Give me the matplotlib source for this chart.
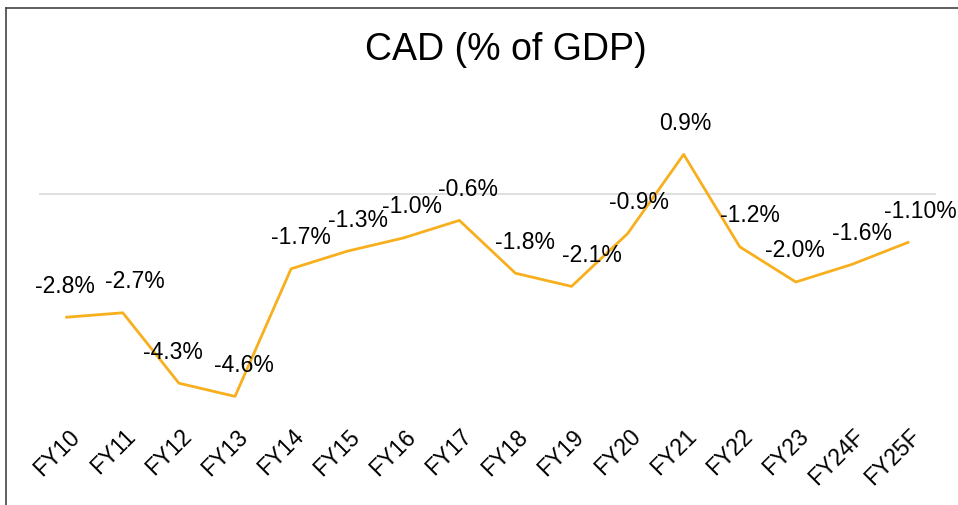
import matplotlib.pyplot as plt
import matplotlib.transforms as mtransforms
from matplotlib.lines import Line2D

# Daten
jahre = ["FY10", "FY11", "FY12", "FY13", "FY14", "FY15", "FY16", "FY17",
         "FY18", "FY19", "FY20", "FY21", "FY22", "FY23", "FY24F", "FY25F"]
cad = [-2.8, -2.7, -4.3, -4.6, -1.7, -1.3, -1.0, -0.6,
       -1.8, -2.1, -0.9, 0.9, -1.2, -2.0, -1.6, -1.1]
beschriftung = ["-2.8%", "-2.7%", "-4.3%", "-4.6%", "-1.7%", "-1.3%", "-1.0%", "-0.6%",
                "-1.8%", "-2.1%", "-0.9%", "0.9%", "-1.2%", "-2.0%", "-1.6%", "-1.10%"]

# horizontale Verschiebung der Labels (Pixel), wie im Original
label_dx = [-2, 12, -6, 9, 10, 11, 9, 9, 10, 20, 11, 2, 10, -1, 10, 12]

plt.rcParams['font.family'] = ['Liberation Sans', 'DejaVu Sans']

fig = plt.figure(figsize=(9.58, 5.05), dpi=100)
ax = fig.add_axes([0.0404, 0.1802, 0.9367, 0.6099])

x = list(range(len(jahre)))
ax.axhline(0, color='#d9d9d9', linewidth=1.2, zorder=1)
ax.plot(x, cad, color='#F8AF1E', linewidth=2.0, zorder=2)

for xi, yi, txt, dx in zip(x, cad, beschriftung, label_dx):
    ax.annotate(txt, (xi, yi), xytext=(dx * 0.72, 31 * 0.72), textcoords='offset points',
                ha='center', va='center', fontsize=16.5, color='black')

ax.set_xlim(-0.5, len(jahre) - 0.5)
ax.set_ylim(-5, 2)
ax.set_xticks(x)
ax.set_xticklabels(jahre, rotation=45, ha='right', rotation_mode='anchor', fontsize=16.5)
ax.tick_params(axis='x', length=0, pad=8)
ax.set_yticks([])
for s in ax.spines.values():
    s.set_visible(False)

verschiebung = mtransforms.ScaledTranslation(1 / 100, 0, fig.dpi_scale_trans)
for lab in ax.get_xticklabels():
    lab.set_transform(lab.get_transform() + verschiebung)

# Titel
fig.text(506 / 958, 1 - 50 / 505, "CAD (% of GDP)", ha='center', va='center', fontsize=27)

# Rahmen (nur oben und links sichtbar)
fig.add_artist(Line2D([6 / 958, 1.0], [1 - 7.5 / 505, 1 - 7.5 / 505],
                      transform=fig.transFigure, color='#444444', linewidth=1.2))
fig.add_artist(Line2D([6 / 958, 6 / 958], [0, 1 - 7.5 / 505],
                      transform=fig.transFigure, color='#444444', linewidth=1.2))

plt.savefig("out.png", dpi=100)
